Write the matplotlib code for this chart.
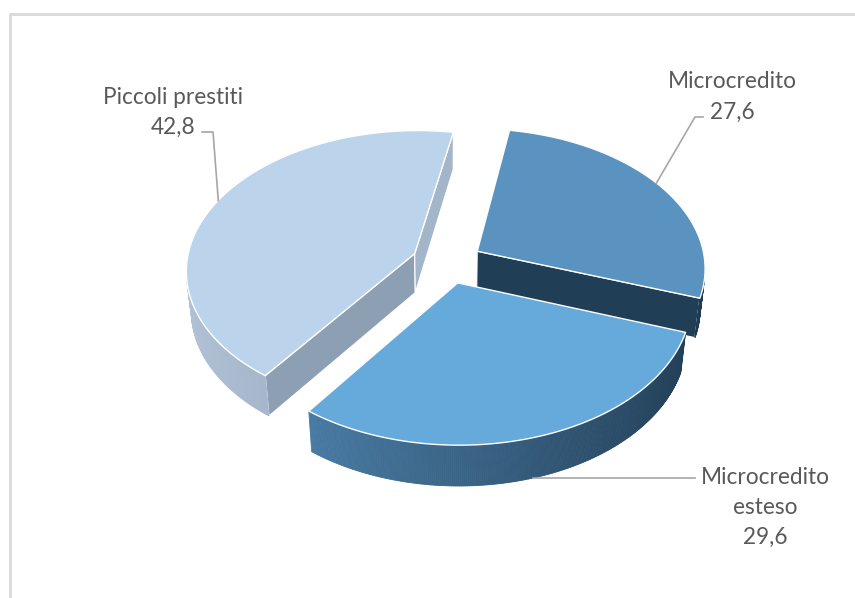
import numpy as np
import matplotlib
matplotlib.use("Agg")
import matplotlib.pyplot as plt
from matplotlib.patches import Polygon

# Shares by product line (percent)
categories = ["Microcredito", "Microcredito esteso", "Piccoli prestiti"]
values = [27.6, 29.6, 42.8]
value_labels = ["27,6", "29,6", "42,8"]
label_lines = [["Microcredito", "27,6"],
               ["Microcredito", "esteso", "29,6"],
               ["Piccoli prestiti", "42,8"]]

# 3D pie geometry (unit radius disk, z up, y pointing away from viewer)
W, H = 855, 598
CX, CY = 447.0, 262.0       # screen position of pie centre (top face)
SCALE = 228.0               # pixels per unit radius at centre depth
ELEV = np.radians(37.5)     # viewing elevation
DIST = 7.0                  # camera distance (perspective strength)
THICK = 0.22                # slice thickness
EXPLODE = 0.155             # radial offset of each slice
START = 10.0                # first slice starts here, clockwise from back

top_colors = ["#5a92c0", "#66a9db", "#bbd3eb"]
start_face_colors = ["#203f57", "#203f57", "#8d9fb3"]
end_face_colors = ["#203f57", "#203f57", "#a3b5c8"]
# outer wall gradient: colour at sin(phi) = -1 (left) and +1 (right)
wall_left = [np.array([60, 100, 130]), np.array([82, 138, 182]), np.array([178, 194, 214])]
wall_right = [np.array([30, 58, 80]), np.array([34, 62, 86]), np.array([120, 138, 158])]

cam = np.array([0.0, -DIST * np.cos(ELEV), DIST * np.sin(ELEV)])


def proj(x, y, z):
    v = y * np.sin(ELEV) + z * np.cos(ELEV)
    w = y * np.cos(ELEV) - z * np.sin(ELEV)
    s = DIST / (DIST + w)
    return CX + SCALE * x * s, CY - SCALE * v * s


def rim(phi_deg, off, z, r=1.0):
    p = np.radians(phi_deg)
    return (off[0] + r * np.sin(p), off[1] + r * np.cos(p), z)


def facing(normal, point):
    return np.dot(normal, cam - np.array(point)) > 0


fig = plt.figure(figsize=(W / 100, H / 100), dpi=100)
ax = fig.add_axes([0, 0, 1, 1])
ax.set_xlim(0, W)
ax.set_ylim(H, 0)
ax.axis("off")

# chart frame
ax.plot([10, 10, W + 5], [H + 5, 14, 14], color="#d9d9d9", lw=2, solid_capstyle="butt")

total = sum(values)
bounds = []
a0 = START
for v in values:
    a1 = a0 + 360.0 * v / total
    bounds.append((a0, a1))
    a0 = a1

offsets = []
for (p1, p2) in bounds:
    b = np.radians((p1 + p2) / 2)
    offsets.append((EXPLODE * np.sin(b), EXPLODE * np.cos(b)))

draw_order = [0, 2, 1]
for i in draw_order:
    p1, p2 = bounds[i]
    off = offsets[i]
    apex_t = (off[0], off[1], 0.0)
    apex_b = (off[0], off[1], -THICK)

    # radial cut faces
    for phi, nphi, col in ((p1, p1 - 90, start_face_colors[i]), (p2, p2 + 90, end_face_colors[i])):
        n = np.array([np.sin(np.radians(nphi)), np.cos(np.radians(nphi)), 0.0])
        rt = rim(phi, off, 0.0)
        rb = rim(phi, off, -THICK)
        centre = [(apex_t[k] + rt[k] + rb[k] + apex_b[k]) / 4 for k in range(3)]
        if facing(n, centre):
            pts = [proj(*apex_t), proj(*rt), proj(*rb), proj(*apex_b)]
            ax.add_patch(Polygon(pts, closed=True, facecolor=col, edgecolor="white", lw=0.8, zorder=2))

    # curved outer wall, shaded across its width
    phis = np.linspace(p1, p2, 240)
    for a, b in zip(phis[:-1], phis[1:]):
        m = (a + b) / 2
        n = np.array([np.sin(np.radians(m)), np.cos(np.radians(m)), 0.0])
        if not facing(n, rim(m, off, -THICK / 2)):
            continue
        u = (np.sin(np.radians(m)) + 1) / 2
        c = (wall_left[i] + (wall_right[i] - wall_left[i]) * u) / 255.0
        pts = [proj(*rim(a, off, 0.0)), proj(*rim(b, off, 0.0)),
               proj(*rim(b, off, -THICK)), proj(*rim(a, off, -THICK))]
        ax.add_patch(Polygon(pts, closed=True, facecolor=c, edgecolor=c, lw=0.6, zorder=2))

    # top face
    pts = [proj(*apex_t)] + [proj(*rim(ph, off, 0.0)) for ph in np.linspace(p1, p2, 200)]
    ax.add_patch(Polygon(pts, closed=True, facecolor=top_colors[i], edgecolor="white", lw=1.0, zorder=3))

# data labels with leader lines
txt_kw = dict(color="#595959", fontsize=16.3, family=["Lato", "DejaVu Sans"], ha="center", va="center")
line_kw = dict(color="#a6a6a6", lw=1.2, zorder=4)
LINE_H = 30

# Microcredito (upper right)
ax_pt = proj(*rim(58, offsets[0], 0.0))
for k, t in enumerate(label_lines[0]):
    ax.text(732, 82 + k * LINE_H, t, **txt_kw)
ax.plot([703, 695, ax_pt[0]], [117, 117, ax_pt[1]], **line_kw)

# Microcredito esteso (lower right)
ax_pt = proj(*rim(163, offsets[1], -THICK))
for k, t in enumerate(label_lines[1]):
    ax.text(765, 477 + k * LINE_H, t, **txt_kw)
ax.plot([ax_pt[0], 695], [ax_pt[1], ax_pt[1]], **line_kw)

# Piccoli prestiti (upper left)
ax_pt = proj(*rim(294, offsets[2], 0.0))
for k, t in enumerate(label_lines[2]):
    ax.text(173, 97 + k * LINE_H, t, **txt_kw)
ax.plot([202, 213, ax_pt[0]], [132, 132, ax_pt[1]], **line_kw)

fig.savefig("out.png", dpi=100, facecolor="white")
